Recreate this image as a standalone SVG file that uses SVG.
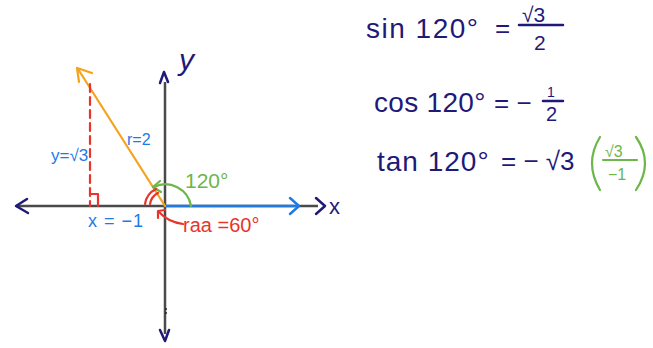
<svg xmlns="http://www.w3.org/2000/svg" width="653" height="348" viewBox="0 0 653 348">
<style>
.nv{fill:#1f1a78;font-family:"Liberation Sans",Arial,sans-serif}
.bl{fill:#1e7be6;font-family:"Liberation Sans",Arial,sans-serif}
.rd{fill:#e8352b;font-family:"Liberation Sans",Arial,sans-serif}
.gr{fill:#6cb64a;font-family:"Liberation Sans",Arial,sans-serif}
.sn{stroke:#1f1a78;fill:none;stroke-width:2.5;stroke-linecap:round;stroke-linejoin:round}
.sb{stroke:#1e7be6;fill:none;stroke-width:2.5;stroke-linecap:round;stroke-linejoin:round}
.sr{stroke:#e8352b;fill:none;stroke-width:2.2;stroke-linecap:round;stroke-linejoin:round}
.sg{stroke:#6cb64a;fill:none;stroke-width:2.2;stroke-linecap:round;stroke-linejoin:round}
.so{stroke:#f5a31c;fill:none;stroke-width:2.2;stroke-linecap:round;stroke-linejoin:round}
.ax{stroke:#4a4a4a;fill:none;stroke-width:2.5}
</style>
<rect width="653" height="348" fill="#fff"/>
<g id="axes">
<line class="ax" x1="16" y1="206" x2="318" y2="206"/>
<line class="ax" x1="165" y1="82" x2="165" y2="334"/>
<path class="sn" d="M27,199 L16,206 L28,213"/>
<path class="sn" d="M316,198 L325,206 L316,214"/>
<path class="sn" d="M160,83 L164,72 L168,82"/>
<path class="sn" d="M160,330 L165,341 L169,330"/>
<circle cx="166" cy="309" r="1" fill="#222"/>
<circle cx="166" cy="313" r="1" fill="#222"/>
<text class="nv" x="329" y="214" font-size="22">x</text>
<text class="nv" x="179" y="70" font-size="30" font-style="italic">y</text>
</g>
<g id="positive-x">
<line class="sb" x1="165" y1="206" x2="298" y2="206"/>
<path class="sb" d="M290,198 L299,206 L290,214"/>
</g>
<g id="radius">
<line class="so" x1="165" y1="206" x2="78" y2="69"/>
<path class="so" d="M92,73 L77,68 L79,82"/>
<text class="bl" x="127" y="145" font-size="16">r=2</text>
</g>
<g id="vertical">
<line class="sr" x1="90" y1="84" x2="90" y2="206" stroke-dasharray="8,5"/>
<path class="sr" d="M90,194 L98,194 L98,206"/>
<text class="bl" x="51" y="161" font-size="17">y=√3</text>
<text class="bl" x="88" y="227" font-size="18" letter-spacing="1">x = −1</text>
</g>
<g id="angle120">
<path class="sg" d="M191,206 A26,26 0 0 0 154,187"/>
<path class="sg" d="M160,181 L153,187 L161,192"/>
<text class="gr" x="185" y="188" font-size="21">120°</text>
</g>
<g id="raa">
<path class="sr" d="M145,204 A20,20 0 0 1 156,189"/>
<path class="sr" d="M150,204 A15,15 0 0 1 158,193"/>
<path class="sr" d="M183,224 Q168,222 159,212"/>
<path class="sr" d="M158,218 L158,211 L165,210"/>
<text class="rd" x="183" y="232" font-size="20">raa =60°</text>
</g>
<g id="sin">
<text class="nv" x="366" y="38" font-size="28" letter-spacing="1.5">sin 120°</text>
<text class="nv" x="495" y="37" font-size="26">=</text>
<text class="nv" x="522" y="22" font-size="21">√3</text>
<line class="sn" x1="519" y1="25" x2="563" y2="25"/>
<text class="nv" x="534" y="50" font-size="21">2</text>
</g>
<g id="cos">
<text class="nv" x="374" y="112" font-size="28" letter-spacing="0.3">cos 120°</text>
<text class="nv" x="494" y="112" font-size="26">= −</text>
<text class="nv" x="547" y="97" font-size="14">1</text>
<line class="sn" x1="543" y1="101" x2="563" y2="101"/>
<text class="nv" x="546" y="121" font-size="20">2</text>
</g>
<g id="tan">
<text class="nv" x="377" y="171" font-size="28" letter-spacing="1">tan 120°</text>
<text class="nv" x="501" y="170" font-size="26">= − √3</text>
<path class="sg" d="M600,137 Q584,163 600,190"/>
<path class="sg" d="M636,137 Q654,163 636,190"/>
<text class="gr" x="605" y="157" font-size="16">√3</text>
<line class="sg" x1="603" y1="160" x2="637" y2="160"/>
<text class="gr" x="608" y="180" font-size="16">−1</text>
</g>
</svg>
